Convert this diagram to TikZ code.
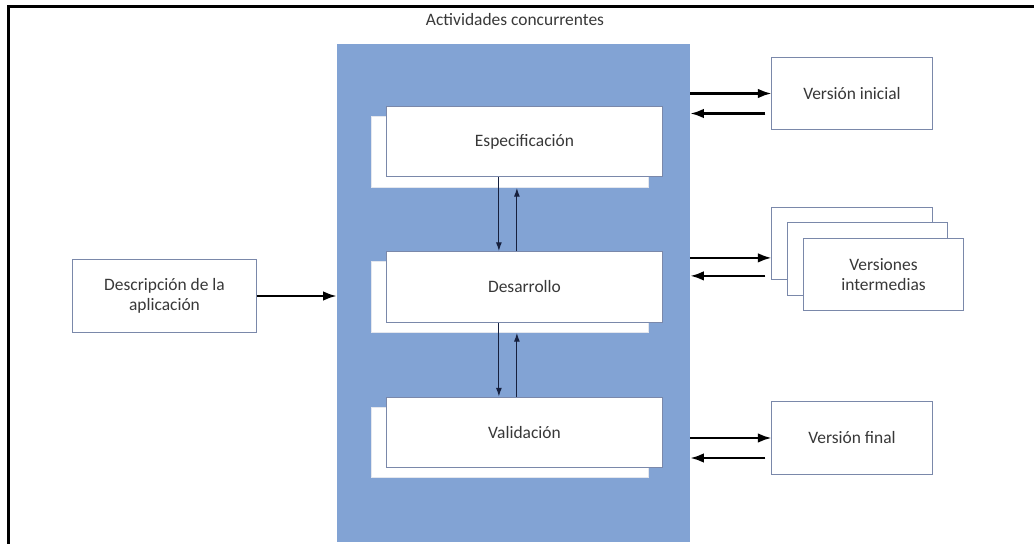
\documentclass[tikz,border=0pt]{standalone}
\usepackage{fontspec}
\setmainfont{Carlito}
\usetikzlibrary{arrows.meta}

\definecolor{panelblue}{RGB}{130,163,212}
\definecolor{boxline}{RGB}{122,136,170}
\definecolor{navy}{RGB}{22,32,62}

\begin{document}
\begin{tikzpicture}[
  x=0.025cm, y=-0.025cm,
  font=\fontsize{12.4}{14.5}\selectfont, text=black!78,
  box/.style={rectangle, draw=boxline, line width=0.7pt, fill=white,
              inner sep=0pt, align=center},
  act/.style={box, minimum width=6.9cm, minimum height=1.77cm},
  actback/.style={act, draw=white!80!boxline},
  ver/.style={box, minimum width=4cm, minimum height=1.8cm},
  arr/.style={-{Latex[length=3.4mm,width=2.4mm]}, line width=1.6pt, draw=black},
  link/.style={-{Latex[length=2.2mm,width=1.5mm]}, line width=0.8pt, draw=navy}
]
\useasboundingbox (0,0) rectangle (1034,544);

% frame
\draw[line width=2pt] (8.5,544) -- (8.5,6.5) -- (1034,6.5);

% concurrent activities panel
\node[fill=panelblue, minimum width=8.825cm, minimum height=12.45cm,
      inner sep=0pt] (panel) at (513.5,293) {};
\node (title) at (515,20) {Actividades concurrentes};

% Especificación
\node[actback] (specb) at (510,152) {};
\node[act] (spec) at (524.5,141.5) {Especificación};

% Desarrollo
\node[actback] (devb) at (510,297) {};
\node[act] (dev) at (524.5,287) {Desarrollo};

% Validación
\node[actback] (valb) at (510,442.5) {};
\node[act] (val) at (524.5,432.5) {Validación};

\draw[link] ([xshift=-6.4mm]spec.south) -- ([xshift=-6.4mm]dev.north);
\draw[link] ([xshift=-1.9mm]dev.north) -- ([xshift=-1.9mm]dev.north |- specb.south);
\draw[link] ([xshift=-6.4mm]dev.south) -- ([xshift=-6.4mm]val.north);
\draw[link] ([xshift=-1.9mm]val.north) -- ([xshift=-1.9mm]val.north |- devb.south);

% input
\node[box, minimum width=4.575cm, minimum height=1.8cm] (desc) at (164.5,296)
  {Descripción de la\\aplicación};
\draw[arr] (desc.east) -- (desc.east -| panel.west);

% outputs
\node[ver] (vi) at (852,93.5) {Versión inicial};

\node[ver] (vm1) at (852,243.5) {};
\node[ver] (vm2) at (867.5,259) {};
\node[ver] (vm3) at (883.5,274.5) {Versiones\\intermedias};

\node[ver] (vf) at (852,438) {Versión final};

\draw[arr] (panel.east |- vi.west) -- (vi.west);
\draw[arr] ([xshift=-1.5mm,yshift=-5mm]vi.west) -- ([yshift=-5mm]panel.east |- vi.west);

\draw[arr] ([yshift=-3.6mm]panel.east |- vm1.west) -- ([yshift=-3.6mm]vm1.west);
\draw[arr] ([xshift=-1.5mm,yshift=-8.1mm]vm1.west) -- ([yshift=-8.1mm]panel.east |- vm1.west);

\draw[arr] (panel.east |- vf.west) -- (vf.west);
\draw[arr] ([xshift=-1.5mm,yshift=-5mm]vf.west) -- ([yshift=-5mm]panel.east |- vf.west);
\end{tikzpicture}
\end{document}
